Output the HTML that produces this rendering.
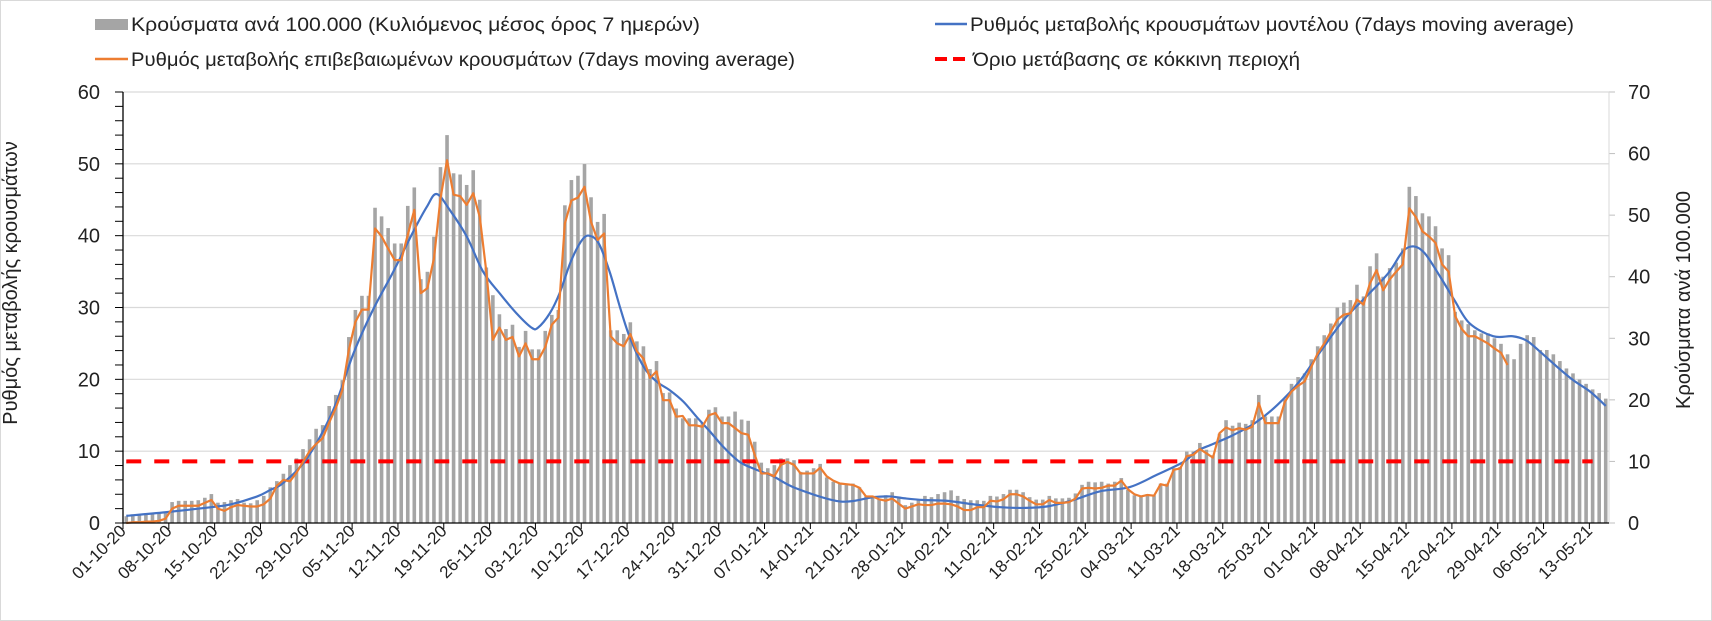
<!DOCTYPE html>
<html><head><meta charset="utf-8">
<style>
html,body{margin:0;padding:0;background:#fff;}
svg{display:block;font-family:"Liberation Sans",sans-serif;}
</style></head>
<body>
<svg id="chart" width="1712" height="621" viewBox="0 0 1712 621">
<rect x="0.5" y="0.5" width="1711" height="620" fill="#fff" stroke="#d9d9d9"/>
<g>
 <g>
  <rect x="95" y="19" width="33" height="11" fill="#a5a5a5"/>
  <text x="131" y="31" font-size="19" fill="#222" textLength="569" lengthAdjust="spacingAndGlyphs">Κρούσματα ανά 100.000 (Κυλιόμενος μέσος όρος 7 ημερών)</text>
 </g>
 <g>
  <line x1="95" y1="59" x2="128" y2="59" stroke="#ed7d31" stroke-width="2.5"/>
  <text x="131" y="66" font-size="19" fill="#222" textLength="664" lengthAdjust="spacingAndGlyphs">Ρυθμός μεταβολής επιβεβαιωμένων κρουσμάτων (7days moving average)</text>
 </g>
 <g>
  <line x1="935" y1="24" x2="967" y2="24" stroke="#4472c4" stroke-width="2.5"/>
  <text x="970" y="31" font-size="19" fill="#222" textLength="604" lengthAdjust="spacingAndGlyphs">Ρυθμός μεταβολής κρουσμάτων μοντέλου (7days moving average)</text>
 </g>
 <g>
  <line x1="935" y1="59" x2="970" y2="59" stroke="#ff0000" stroke-width="4" stroke-dasharray="12,6"/>
  <text x="973" y="66" font-size="19" fill="#222" textLength="327" lengthAdjust="spacingAndGlyphs">Όριο μετάβασης σε κόκκινη περιοχή</text>
 </g>
</g>
<text x="17" y="283" font-size="20" fill="#222" text-anchor="middle" transform="rotate(-90 17 283)">Ρυθμός μεταβολής κρουσμάτων</text>
<text x="1690" y="300" font-size="20" fill="#222" text-anchor="middle" transform="rotate(-90 1690 300)">Κρούσματα ανά 100.000</text>
<g id="grid"></g><g id="bars"></g><g id="lines"></g><g id="axes"></g>
</svg>
<script>
const categoryCount = 227;
const dateLabels = ["01-10-20","08-10-20","15-10-20","22-10-20","29-10-20","05-11-20","12-11-20","19-11-20","26-11-20","03-12-20","10-12-20","17-12-20","24-12-20","31-12-20","07-01-21","14-01-21","21-01-21","28-01-21","04-02-21","11-02-21","18-02-21","25-02-21","04-03-21","11-03-21","18-03-21","25-03-21","01-04-21","08-04-21","15-04-21","22-04-21","29-04-21","06-05-21","13-05-21"];
const leftTicks = [0,10,20,30,40,50,60];
const rightTicks = [0,10,20,30,40,50,60,70];
const thresholdValue = 10;
const casesPer100k = [1.1,1.2,1.3,1.3,1.4,1.5,1.6,
3.4,3.6,3.6,3.6,3.7,4.1,4.7,3.3,3.4,3.7,3.9,3.3,3.2,3.7,4.4,5.8,
6.8,8.0,9.4,10.5,12.0,13.6,15.3,15.9,19.0,20.8,23.2,
30.2,34.6,36.9,36.9,51.2,49.8,47.9,45.4,45.4,51.5,54.5,39.6,40.8,46.5,57.8,63.0,56.8,56.6,54.9,57.3,52.5,41.5,37.0,33.9,31.5,32.2,28.6,
31.2,28.2,28.2,31.2,33.8,34.6,51.6,55.7,56.4,58.3,52.9,48.9,50.2,31.3,31.3,30.7,32.6,29.5,28.7,25.0,26.3,21.1,21.2,18.6,17.0,17.0,17.0,16.2,18.4,18.8,17.3,17.3,18.1,16.8,16.6,13.2,9.8,8.9,9.4,10.5,10.5,10.2,8.3,8.5,8.9,9.6,7.4,6.7,6.4,6.2,6.4,5.8,
4.3,4.2,3.9,4.5,5.0,4.3,2.9,3.3,3.7,4.4,4.2,4.7,5.0,5.3,4.4,3.9,3.7,3.7,3.6,4.4,4.3,4.7,5.4,5.4,5.0,4.2,3.8,3.8,4.4,4.0,4.0,4.1,4.8,6.2,6.7,6.6,6.7,6.4,6.7,7.3,5.4,4.5,4.3,4.7,4.5,6.4,6.4,8.9,9.1,11.6,11.6,13.0,
11.9,11.0,14.5,16.7,15.8,16.3,16.1,16.7,20.8,17.3,17.3,17.3,20.1,22.6,23.7,24.3,26.6,28.7,30.5,32.4,35.0,35.8,36.2,38.7,36.8,41.7,43.8,40.0,41.4,42.3,44.6,54.6,53.1,50.3,49.8,48.2,44.6,43.5,
34.3,32.9,32.3,31.3,30.8,30.8,30.0,29.1,27.4,26.6,29.1,30.5,30.2,28.1,28.1,27.4,26.3,25.1,24.3,23.3,22.6,21.7,21.1,20.2];
const confirmedRate = [0,0.1,0.1,0.2,0.2,0.3,0.6,2.0,2.4,2.4,2.4,2.4,2.8,3.2,2.0,1.7,2.2,2.5,2.4,2.3,2.3,2.6,3.4,
5.2,6.0,5.8,7.0,8.5,10.0,11.0,11.8,14.0,16.0,18.5,24.1,28.0,29.7,29.7,41.0,39.9,38.2,36.6,36.6,40.1,43.6,32.0,32.7,36.8,45.2,50.5,45.7,45.5,44.3,45.9,42.6,35.0,25.5,27.2,25.5,25.9,23.2,
25.0,22.8,22.8,24.5,27.6,28.6,41.7,44.9,45.3,46.8,41.9,39.4,40.3,26.0,25.0,24.6,26.3,23.9,22.9,20.2,21.1,17.1,17.1,14.8,14.9,13.6,13.6,13.4,15.0,15.3,13.9,13.9,13.2,12.5,12.3,9.5,6.9,6.9,6.5,8.1,8.5,8.1,6.9,6.9,6.9,7.7,6.5,5.9,5.5,5.4,5.3,4.9,
3.7,3.7,3.3,3.1,3.4,2.7,2.0,2.3,2.6,2.5,2.5,2.7,2.7,2.6,2.3,1.8,1.8,2.2,2.2,3.1,3.0,3.3,4.0,4.0,3.7,3.1,2.6,2.6,3.2,2.8,2.8,2.9,3.4,4.8,4.9,4.8,4.9,5.2,5.2,5.9,4.7,4.0,3.7,3.9,3.8,5.4,5.2,7.4,7.6,9.3,9.5,10.3,
9.7,9.1,12.5,13.3,12.9,13.2,13.0,13.4,16.7,13.9,13.9,13.9,16.9,18.3,19.1,19.7,21.7,23.6,25.0,26.6,28.3,29.0,29.2,31.1,30.4,33.4,35.2,32.4,33.9,35.0,36.0,43.8,42.6,40.6,39.9,39.0,36.0,35.0,28.8,27.0,26.0,26.0,25.5,25.0,24.3,23.7,22.0];
const modelDays = [0,6,13,16,20,22,24,27.6,31.6,34.7,37.7,40.8,43.8,45.9,47.4,49.4,52,54.5,57.1,59.6,61.9,62.9,64.7,66.2,68,69.8,71.1,72.3,73.9,75.4,76.9,79,81,83,85.1,87.1,89.2,91.2,93.7,96.3,98.8,102.4,109,114.1,116.6,119.2,121.8,125.3,129.4,133.5,137,140.6,144.7,148.7,153.3,157.4,161.5,163.5,166,169,172.4,175.8,179.2,182.6,186,189.4,192.8,195,196.7,198.4,200.7,202.9,205.2,208.8,211.8,213.9,215.9,218.5,221,223.6,226];
const modelRate = [1.0,1.5,2.2,2.6,3.7,4.6,5.6,9.0,15.7,23.6,29.7,35.0,40.5,44.0,45.8,43.6,39.9,35.0,31.9,29.2,27.2,27.2,29.2,32.0,36.6,39.6,39.9,38.7,34.8,30.1,25.9,21.8,19.7,18.5,16.9,14.8,12.7,10.6,8.5,7.4,6.5,4.8,3.0,3.6,3.7,3.4,3.2,3.1,2.6,2.2,2.1,2.3,3.2,4.4,5.0,6.7,8.5,10.0,11.0,12.2,13.9,16.4,19.7,24.1,28.3,31.5,34.8,37.8,38.5,37.5,34.3,31.0,27.8,26.0,26.0,25.4,23.9,21.8,19.9,18.3,16.3];

const NS = "http://www.w3.org/2000/svg";
const X0 = 123, X1 = 1609, Y0 = 523, Y60 = 92;
const band = (X1 - X0) / categoryCount;
const xc = i => X0 + (i + 0.5) * band;
const yL = v => Y0 - v * (Y0 - Y60) / 60;
const yR = v => Y0 - v * (Y0 - Y60) / 70;
function mk(tag, attrs, parent) {
  const e = document.createElementNS(NS, tag);
  for (const k in attrs) e.setAttribute(k, attrs[k]);
  parent.appendChild(e);
  return e;
}
const grid = document.getElementById('grid');
const barsG = document.getElementById('bars');
const linesG = document.getElementById('lines');
const axesG = document.getElementById('axes');

leftTicks.forEach(v => {
  if (v > 0) {
    const g = mk('line', {x1: X0, x2: X1, y1: yL(v), y2: yL(v), stroke: '#d9d9d9', 'stroke-width': 1.2}, grid);
    
    
  }
  const t = mk('text', {x: 100, y: yL(v) + 7, 'font-size': 20, fill: '#222', 'text-anchor': 'end'}, axesG);
  t.textContent = v;
  
  
});
for (let v = 0; v <= 60; v += 2) {
  const tk = mk('line', {x1: X0 - 8, x2: X0, y1: yL(v), y2: yL(v), stroke: '#000', 'stroke-width': 1}, axesG);
  
  
}
rightTicks.forEach(v => {
  const t = mk('text', {x: 1628, y: yR(v) + 7, 'font-size': 20, fill: '#222'}, axesG);
  t.textContent = v;
  
  
  const tk = mk('line', {x1: X1, x2: X1 + 6, y1: yR(v), y2: yR(v), stroke: '#bfbfbf', 'stroke-width': 1}, axesG);
  
  
});
const ra = mk('line', {x1: X1, x2: X1, y1: Y60, y2: Y0, stroke: '#d9d9d9', 'stroke-width': 1}, axesG);



casesPer100k.forEach((v, i) => {
  const b = mk('rect', {x: xc(i) - 1.8, y: yR(v), width: 3.6, height: Y0 - yR(v), fill: '#a5a5a5'}, barsG);
  
  
});

const th = mk('line', {x1: xc(0), x2: xc(categoryCount - 3), y1: yR(thresholdValue), y2: yR(thresholdValue), stroke: '#ff0000', 'stroke-width': 4, 'stroke-dasharray': '15,13'}, linesG);



const mp = modelDays.map((d, k) => [xc(d), yL(modelRate[k])]);
let dpath = `M${mp[0][0]},${mp[0][1]}`;
for (let k = 0; k < mp.length - 1; k++) {
  const p0 = mp[Math.max(0, k - 1)], p1 = mp[k], p2 = mp[k + 1], p3 = mp[Math.min(mp.length - 1, k + 2)];
  const c1 = [p1[0] + (p2[0] - p0[0]) / 6, p1[1] + (p2[1] - p0[1]) / 6];
  const c2 = [p2[0] - (p3[0] - p1[0]) / 6, p2[1] - (p3[1] - p1[1]) / 6];
  dpath += ` C${c1[0]},${c1[1]} ${c2[0]},${c2[1]} ${p2[0]},${p2[1]}`;
}
const bl = mk('path', {d: dpath, fill: 'none', stroke: '#4472c4', 'stroke-width': 2.2}, linesG);



const op = confirmedRate.map((v, i) => `${xc(i)},${yL(v)}`).join(' ');
const ol = mk('polyline', {points: op, fill: 'none', stroke: '#ed7d31', 'stroke-width': 2.2, 'stroke-linejoin': 'round'}, linesG);



const la = mk('line', {x1: X0, x2: X0, y1: Y60, y2: Y0, stroke: '#000', 'stroke-width': 1.3}, axesG);


const xa = mk('line', {x1: X0, x2: X1, y1: Y0, y2: Y0, stroke: '#000', 'stroke-width': 1.3}, axesG);


dateLabels.forEach((lab, k) => {
  const x = X0 + k * 7 * band;
  const tk = mk('line', {x1: x, x2: x, y1: Y0, y2: Y0 + 6, stroke: '#000', 'stroke-width': 1}, axesG);
  
  
  const t = mk('text', {x: x + 4, y: 532, 'font-size': 17, fill: '#222', 'text-anchor': 'end', transform: `rotate(-45 ${x + 4} 532)`}, axesG);
  t.textContent = lab;
  
  
});
</script>
</body></html>
